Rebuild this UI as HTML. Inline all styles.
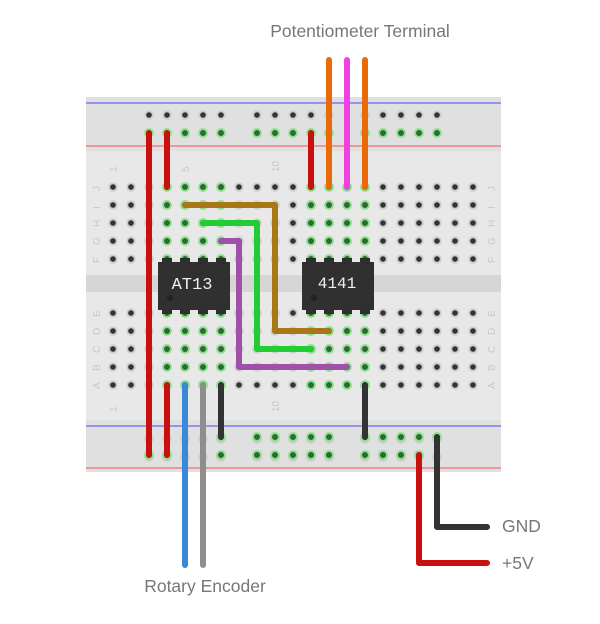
<!DOCTYPE html>
<html><head><meta charset="utf-8"><style>
html,body{margin:0;padding:0;background:#fff;}
svg{display:block}
</style></head><body>
<svg width="600" height="624" viewBox="0 0 600 624" xmlns="http://www.w3.org/2000/svg" style="font-family:'Liberation Sans','DejaVu Sans',sans-serif">
<defs>
<pattern id="h" patternUnits="userSpaceOnUse" x="104" y="106" width="18" height="18">
<circle cx="9" cy="9" r="4.8" fill="#cfcfcf"/><circle cx="9" cy="9" r="2.8" fill="#333"/>
</pattern>
<g id="g"><circle r="5" fill="#8fe28f"/><circle r="3" fill="#2f6a35"/></g>
<g id="col"><use href="#g" x="0" y="187"/><use href="#g" x="0" y="205"/><use href="#g" x="0" y="223"/><use href="#g" x="0" y="241"/><use href="#g" x="0" y="259"/><use href="#g" x="0" y="313"/><use href="#g" x="0" y="331"/><use href="#g" x="0" y="349"/><use href="#g" x="0" y="367"/><use href="#g" x="0" y="385"/></g>
</defs>
<!-- board -->
<rect x="86" y="97" width="415" height="375" fill="#e4e4e4"/>
<rect x="86" y="97" width="415" height="54" fill="#e0e0e0"/>
<rect x="86" y="151" width="415" height="270" fill="#e8e8e8"/>
<rect x="86" y="420" width="415" height="52" fill="#e0e0e0"/>
<rect x="86" y="275" width="415" height="17" fill="#d6d6d6"/>
<line x1="86" y1="103" x2="501" y2="103" stroke="#7b7bf0" stroke-width="1.5"/>
<line x1="86" y1="146" x2="501" y2="146" stroke="#f08080" stroke-width="1.5"/>
<line x1="86" y1="426" x2="501" y2="426" stroke="#7b7bf0" stroke-width="1.5"/>
<line x1="86" y1="468" x2="501" y2="468" stroke="#f08080" stroke-width="1.5"/>
<!-- holes -->
<rect x="104" y="178" width="378" height="90" fill="url(#h)"/>
<rect x="104" y="304" width="378" height="90" fill="url(#h)"/>
<rect x="140" y="106" width="90" height="36" fill="url(#h)"/>
<rect x="248" y="106" width="90" height="36" fill="url(#h)"/>
<rect x="356" y="106" width="90" height="36" fill="url(#h)"/>
<rect x="140" y="428" width="90" height="36" fill="url(#h)"/>
<rect x="248" y="428" width="90" height="36" fill="url(#h)"/>
<rect x="356" y="428" width="90" height="36" fill="url(#h)"/>
<!-- green holes -->
<g>
<use href="#g" x="149" y="133"/><use href="#g" x="167" y="133"/><use href="#g" x="185" y="133"/><use href="#g" x="203" y="133"/><use href="#g" x="221" y="133"/>
<use href="#g" x="257" y="133"/><use href="#g" x="275" y="133"/><use href="#g" x="293" y="133"/><use href="#g" x="311" y="133"/><use href="#g" x="329" y="133"/>
<use href="#g" x="365" y="133"/><use href="#g" x="383" y="133"/><use href="#g" x="401" y="133"/><use href="#g" x="419" y="133"/><use href="#g" x="437" y="133"/>
<use href="#g" x="149" y="455"/><use href="#g" x="167" y="455"/><use href="#g" x="221" y="437"/><use href="#g" x="221" y="455"/>
<use href="#g" x="257" y="437"/><use href="#g" x="275" y="437"/><use href="#g" x="293" y="437"/><use href="#g" x="311" y="437"/><use href="#g" x="329" y="437"/>
<use href="#g" x="257" y="455"/><use href="#g" x="275" y="455"/><use href="#g" x="293" y="455"/><use href="#g" x="311" y="455"/><use href="#g" x="329" y="455"/>
<use href="#g" x="365" y="437"/><use href="#g" x="383" y="437"/><use href="#g" x="401" y="437"/><use href="#g" x="419" y="437"/><use href="#g" x="437" y="437"/>
<use href="#g" x="365" y="455"/><use href="#g" x="383" y="455"/><use href="#g" x="401" y="455"/><use href="#g" x="419" y="455"/>
</g>
<use href="#col" x="167"/><use href="#col" x="185"/><use href="#col" x="203"/><use href="#col" x="221"/>
<use href="#col" x="311"/><use href="#col" x="329"/><use href="#col" x="347"/><use href="#col" x="365"/>
<!-- labels -->
<g fill="#c8c8c8" font-size="10">
<text transform="translate(117,172) rotate(-90)">1</text>
<text transform="translate(189,172) rotate(-90)">5</text>
<text transform="translate(279,172) rotate(-90)">10</text>
<text transform="translate(117,412) rotate(-90)">1</text>
<text transform="translate(279,412) rotate(-90)">10</text>
<text transform="translate(100,191) rotate(-90)">J</text><text transform="translate(100,209) rotate(-90)">I</text><text transform="translate(100,227) rotate(-90)">H</text><text transform="translate(100,245) rotate(-90)">G</text><text transform="translate(100,263) rotate(-90)">F</text>
<text transform="translate(100,317) rotate(-90)">E</text><text transform="translate(100,335) rotate(-90)">D</text><text transform="translate(100,353) rotate(-90)">C</text><text transform="translate(100,371) rotate(-90)">B</text><text transform="translate(100,389) rotate(-90)">A</text>
<text transform="translate(495,191) rotate(-90)">J</text><text transform="translate(495,209) rotate(-90)">I</text><text transform="translate(495,227) rotate(-90)">H</text><text transform="translate(495,245) rotate(-90)">G</text><text transform="translate(495,263) rotate(-90)">F</text>
<text transform="translate(495,317) rotate(-90)">E</text><text transform="translate(495,335) rotate(-90)">D</text><text transform="translate(495,353) rotate(-90)">C</text><text transform="translate(495,371) rotate(-90)">B</text><text transform="translate(495,389) rotate(-90)">A</text>
</g>
<!-- chips -->
<g>
<rect x="158" y="262" width="72" height="48" fill="#303030"/>
<g fill="#2f2f2f"><rect x="162" y="258" width="10" height="6"/><rect x="180" y="258" width="10" height="6"/><rect x="198" y="258" width="10" height="6"/><rect x="216" y="258" width="10" height="6"/>
<rect x="162" y="308" width="10" height="6"/><rect x="180" y="308" width="10" height="6"/><rect x="198" y="308" width="10" height="6"/><rect x="216" y="308" width="10" height="6"/></g>
<circle cx="170" cy="298" r="3" fill="#222"/>
<text x="192" y="289" fill="#eee" font-size="17" text-anchor="middle" style="font-family:'Liberation Mono',monospace">AT13</text>
<rect x="302" y="262" width="72" height="48" fill="#303030"/>
<g fill="#2f2f2f"><rect x="306" y="258" width="10" height="6"/><rect x="324" y="258" width="10" height="6"/><rect x="342" y="258" width="10" height="6"/><rect x="360" y="258" width="10" height="6"/>
<rect x="306" y="308" width="10" height="6"/><rect x="324" y="308" width="10" height="6"/><rect x="342" y="308" width="10" height="6"/><rect x="360" y="308" width="10" height="6"/></g>
<circle cx="314" cy="298" r="3" fill="#222"/>
<text x="337" y="288" fill="#eee" font-size="16" text-anchor="middle" style="font-family:'Liberation Mono',monospace">4141</text>
</g>
<!-- wires -->
<g fill="none" stroke-width="6" stroke-linecap="round" stroke-linejoin="round">
<path d="M149 133V455" stroke="#c8100f"/>
<path d="M167 133V187" stroke="#c8100f"/>
<path d="M311 133V187" stroke="#c8100f"/>
<path d="M329 60V187" stroke="#ea6a0a"/>
<path d="M347 60V187" stroke="#f040e0"/>
<path d="M365 60V187" stroke="#ea6a0a"/>
<path d="M185 205H275V331H329" stroke="#a87818"/>
<path d="M203 223H257V349H311" stroke="#22cc33"/>
<path d="M221 241H239V367H347" stroke="#a050a8"/>
<path d="M167 385V455" stroke="#c8100f"/>
<path d="M185 385V565" stroke="#3a88d8"/>
<path d="M203 385V565" stroke="#8e8e8e"/>
<path d="M221 385V437" stroke="#333"/>
<path d="M365 385V437" stroke="#333"/>
<path d="M419 455V563H487" stroke="#c8100f"/>
<path d="M437 437V527H487" stroke="#333"/>
</g>
<g fill="#777" font-size="17.5">
<text x="360" y="37" text-anchor="middle">Potentiometer Terminal</text>
<text x="205" y="592" text-anchor="middle">Rotary Encoder</text>
<text x="502" y="532">GND</text>
<text x="502" y="569">+5V</text>
</g>
</svg>
</body></html>
